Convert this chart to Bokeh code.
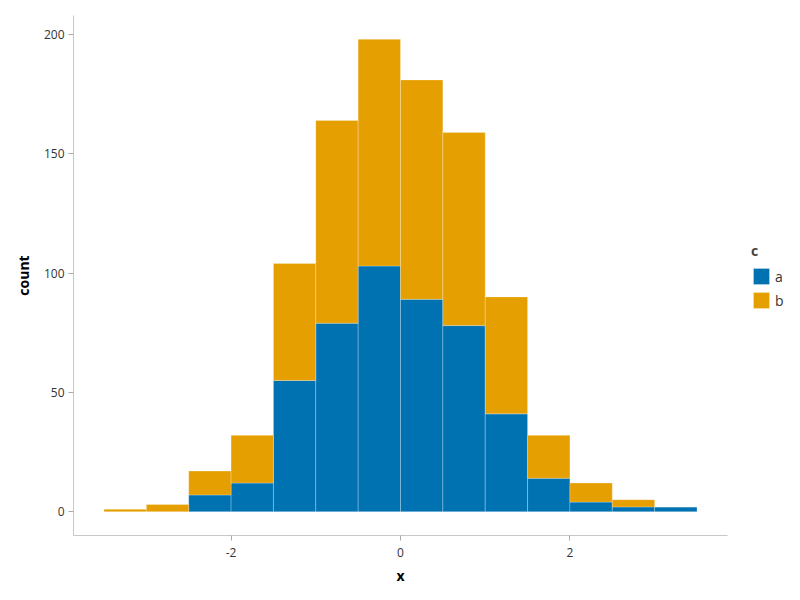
from bokeh.plotting import figure
from bokeh.models import ColumnDataSource, FixedTicker, Legend, LegendItem, CustomJSTickFormatter
from bokeh.embed import file_html
from bokeh.resources import INLINE

# Data (bins of width 0.5)
bin_left = [-3.5, -3.0, -2.5, -2.0, -1.5, -1.0, -0.5, 0.0, 0.5, 1.0, 1.5, 2.0, 2.5, 3.0]
bin_right = [-3.0, -2.5, -2.0, -1.5, -1.0, -0.5, 0.0, 0.5, 1.0, 1.5, 2.0, 2.5, 3.0, 3.5]
count_a = [0, 0, 7, 12, 55, 79, 103, 89, 78, 41, 14, 4, 2, 2]
count_b = [1, 3, 10, 20, 49, 85, 95, 92, 81, 49, 18, 8, 3, 0]
series = ["a", "b"]
colors = ["#0072B2", "#E69F00"]
x_ticks = [-2, 0, 2]
y_ticks = [0, 50, 100, 150, 200]

FONT = "Open Sans"

top_a = count_a
top_b = [a + b for a, b in zip(count_a, count_b)]

src = ColumnDataSource(dict(
    left=bin_left, right=bin_right,
    bot_a=[0] * len(count_a), top_a=top_a,
    bot_b=top_a, top_b=top_b,
))

p = figure(frame_width=654, frame_height=520, output_backend="svg", toolbar_location=None,
           x_range=(-3.86, 3.86), y_range=(-10, 208),
           min_border_left=73, min_border_right=73, min_border_top=15, min_border_bottom=65)

r_a = p.quad(left="left", right="right", bottom="bot_a", top="top_a", source=src,
             fill_color=colors[0], line_color="white", line_alpha=0.25, line_width=1)
r_b = p.quad(left="left", right="right", bottom="bot_b", top="top_b", source=src,
             fill_color=colors[1], line_color="white", line_alpha=0.25, line_width=1)

p.outline_line_color = None
p.grid.visible = False
p.background_fill_color = "white"

fmt = CustomJSTickFormatter(code="return String(tick);")
for ax in (p.xaxis[0], p.yaxis[0]):
    ax.axis_line_color = "#c8c8c8"
    ax.axis_line_width = 1
    ax.major_tick_line_color = "#aaaaaa"
    ax.major_tick_out = 5
    ax.major_tick_in = 0
    ax.minor_tick_line_color = None
    ax.major_label_text_font = FONT
    ax.major_label_text_font_size = "12px"
    ax.major_label_text_color = "#333333"
    ax.axis_label_text_font = FONT
    ax.axis_label_text_font_size = "14px"
    ax.axis_label_text_font_style = "bold"
    ax.axis_label_text_color = "#000000"
    ax.major_label_standoff = 4
    ax.formatter = fmt

p.xaxis.ticker = FixedTicker(ticks=x_ticks)
p.yaxis.ticker = FixedTicker(ticks=y_ticks)
p.xaxis.axis_label = "x"
p.yaxis.axis_label = "count"
p.xaxis.major_label_standoff = 7
p.xaxis.axis_label_standoff = 6
p.yaxis.axis_label_standoff = 8

legend = Legend(items=[LegendItem(label=series[0], renderers=[r_a]),
                       LegendItem(label=series[1], renderers=[r_b])],
                title="c", location=(24, 225))
legend.title_text_font = FONT
legend.title_text_font_style = "bold"
legend.title_text_font_size = "14px"
legend.label_text_font = FONT
legend.label_text_font_size = "14px"
legend.label_text_color = "#333333"
legend.glyph_width = 20
legend.glyph_height = 20
legend.label_width = 10
legend.spacing = 4
legend.label_standoff = 4
legend.padding = 0
legend.margin = 0
legend.border_line_color = None
legend.background_fill_alpha = 0
legend.title_standoff = 6
p.add_layout(legend, "right")

open("out.html", "w").write(file_html(p, INLINE))
